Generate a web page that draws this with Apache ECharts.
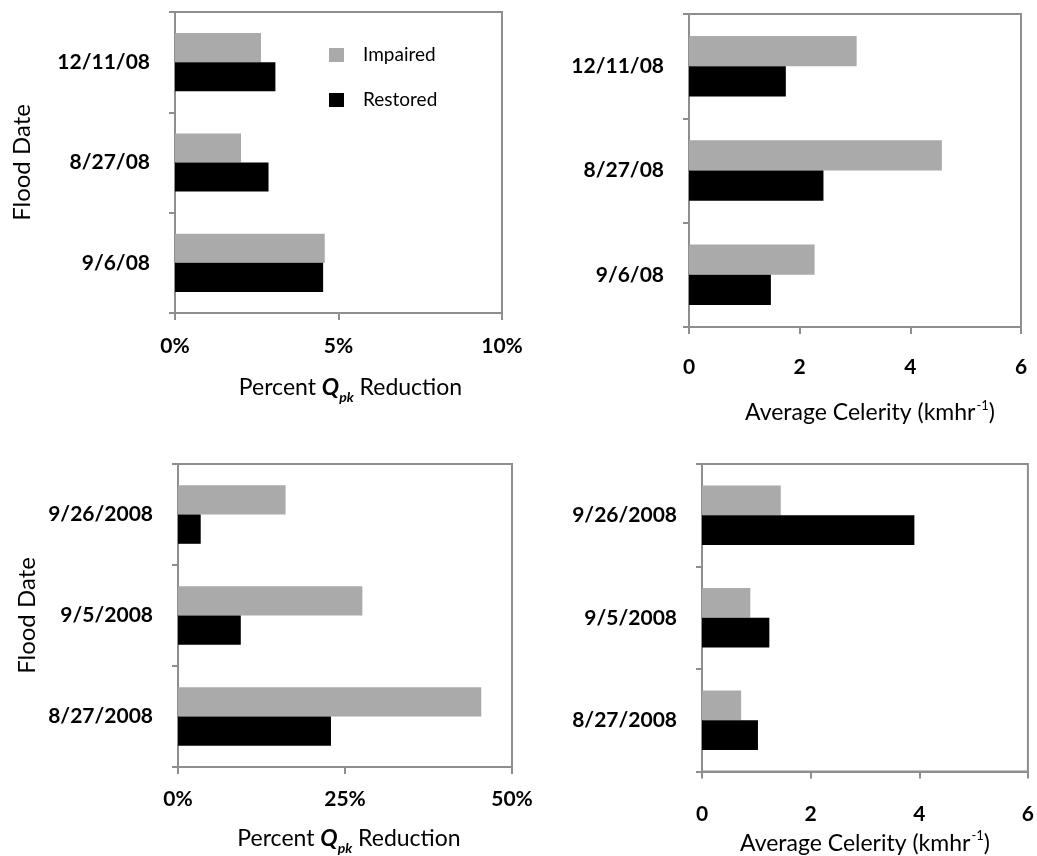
<!DOCTYPE html>
<html>
<head>
<meta charset="utf-8">
<title>Flood peak reduction and celerity</title>
<script src="https://cdn.jsdelivr.net/npm/echarts@6/dist/echarts.min.js"></script>
<style>
  html, body { margin: 0; padding: 0; background: #fff; }
  #chart { width: 1037px; height: 856px; }
</style>
</head>
<body>
<div id="chart"></div>
<script>
// Flood dates (listed top to bottom)
const topDates = ['12/11/08', '8/27/08', '9/6/08'];
const bottomDates = ['9/26/2008', '9/5/2008', '8/27/2008'];

// Percent Qpk reduction (%)
const topPctImpaired = [2.63, 2.02, 4.58];
const topPctRestored = [3.07, 2.86, 4.53];
const botPctImpaired = [16.1, 27.6, 45.4];
const botPctRestored = [3.4, 9.4, 22.9];

// Average celerity (km/hr)
const topCelImpaired = [3.03, 4.57, 2.27];
const topCelRestored = [1.75, 2.43, 1.48];
const botCelImpaired = [1.45, 0.89, 0.72];
const botCelRestored = [3.91, 1.24, 1.03];

// Value axis ranges
const topPctTicks = { min: 0, max: 10, interval: 5 };
const botPctTicks = { min: 0, max: 50, interval: 25 };
const celTicks = { min: 0, max: 6, interval: 2 };

const FONT = 'Lato, "Open Sans", "DejaVu Sans", sans-serif';
const AXIS_GRAY = '#8e8e8e';
const IMPAIRED = '#aaaaaa';
const RESTORED = '#000000';

const pctName = '{a|Percent }{q|Q}{s|pk}{a| Reduction}';
const celName = '{a|Average Celerity (kmhr}{p|-1}{a|)}';

function nameStyle(shiftX) {
  return {
    padding: [0, 0, 0, shiftX * 2],
    rich: {
      a: { fontFamily: FONT, fontSize: 23, color: '#000', lineHeight: 32, verticalAlign: 'middle' },
      q: { fontFamily: FONT, fontSize: 23, color: '#000', fontStyle: 'italic', fontWeight: 'bold', lineHeight: 32, verticalAlign: 'middle' },
      s: { fontFamily: FONT, fontSize: 14, color: '#000', fontStyle: 'italic', fontWeight: 'bold', lineHeight: 32, verticalAlign: 'bottom' },
      p: { fontFamily: FONT, fontSize: 13, color: '#000', lineHeight: 30, verticalAlign: 'top', padding: [2, 0, 0, 1] }
    }
  };
}

const grids = [
  { left: 175, top: 12, width: 327, height: 301 },
  { left: 689, top: 14, width: 332, height: 313 },
  { left: 178, top: 464, width: 334, height: 308 },
  { left: 702, top: 464, width: 329, height: 310 }
].map(g => Object.assign({ show: true, borderColor: AXIS_GRAY, borderWidth: 2, containLabel: false }, g));

function valueAxis(idx, ticks, isPct, labelMargin, name, nameGap, shiftX) {
  return {
    type: 'value',
    gridIndex: idx,
    min: ticks.min, max: ticks.max, interval: ticks.interval,
    axisLine: { show: true, lineStyle: { color: AXIS_GRAY, width: 2 } },
    axisTick: { show: true, length: 7, lineStyle: { color: AXIS_GRAY, width: 2 } },
    splitLine: { show: false },
    axisLabel: {
      margin: labelMargin,
      fontFamily: FONT, fontSize: 21, fontWeight: 'bold', color: '#000',
      formatter: isPct ? '{value}%' : '{value}'
    },
    name: name,
    nameLocation: 'middle',
    nameGap: nameGap,
    nameTextStyle: nameStyle(shiftX)
  };
}

function categoryAxis(idx, cats, withTitle, nameGap) {
  const ax = {
    type: 'category',
    gridIndex: idx,
    data: cats,
    inverse: true,
    axisLine: { show: true, lineStyle: { color: AXIS_GRAY, width: 2 } },
    axisTick: { show: true, length: 6, lineStyle: { color: AXIS_GRAY, width: 2 } },
    axisLabel: { margin: 25, fontFamily: FONT, fontSize: 21, fontWeight: 'bold', color: '#000' }
  };
  if (withTitle) {
    ax.name = 'Flood Date';
    ax.nameLocation = 'middle';
    ax.nameGap = nameGap;
    ax.nameRotate = 90;
    ax.nameTextStyle = { fontFamily: FONT, fontSize: 24, color: '#000' };
  }
  return ax;
}

function barPair(idx, impaired, restored) {
  const common = { type: 'bar', xAxisIndex: idx, yAxisIndex: idx, barGap: '0%', barCategoryGap: '42%', animation: false };
  return [
    Object.assign({ name: 'Impaired', data: impaired, itemStyle: { color: IMPAIRED } }, common),
    Object.assign({ name: 'Restored', data: restored, itemStyle: { color: RESTORED } }, common)
  ];
}

const option = {
  backgroundColor: '#fff',
  animation: false,
  grid: grids,
  legend: {
    data: ['Impaired', 'Restored'],
    orient: 'vertical',
    left: 324, top: 40,
    icon: 'rect',
    itemWidth: 15, itemHeight: 14, itemGap: 25,
    textStyle: { fontFamily: FONT, fontSize: 19, lineHeight: 20, color: '#000', padding: [0, 0, 0, 14] }
  },
  xAxis: [
    valueAxis(0, topPctTicks, true, 23, pctName, 59, 12),
    valueAxis(1, celTicks, false, 30, celName, 70, 15),
    valueAxis(2, botPctTicks, true, 22, pctName, 56, 4),
    valueAxis(3, celTicks, false, 32, celName, 56, 0)
  ],
  yAxis: [
    categoryAxis(0, topDates, true, 141),
    categoryAxis(1, topDates, false),
    categoryAxis(2, bottomDates, true, 139),
    categoryAxis(3, bottomDates, false)
  ],
  series: [
    ...barPair(0, topPctImpaired, topPctRestored),
    ...barPair(1, topCelImpaired, topCelRestored),
    ...barPair(2, botPctImpaired, botPctRestored),
    ...barPair(3, botCelImpaired, botCelRestored)
  ]
};

const chart = echarts.init(document.getElementById('chart'), null, { renderer: 'canvas' });
chart.setOption(option);
</script>
</body>
</html>
